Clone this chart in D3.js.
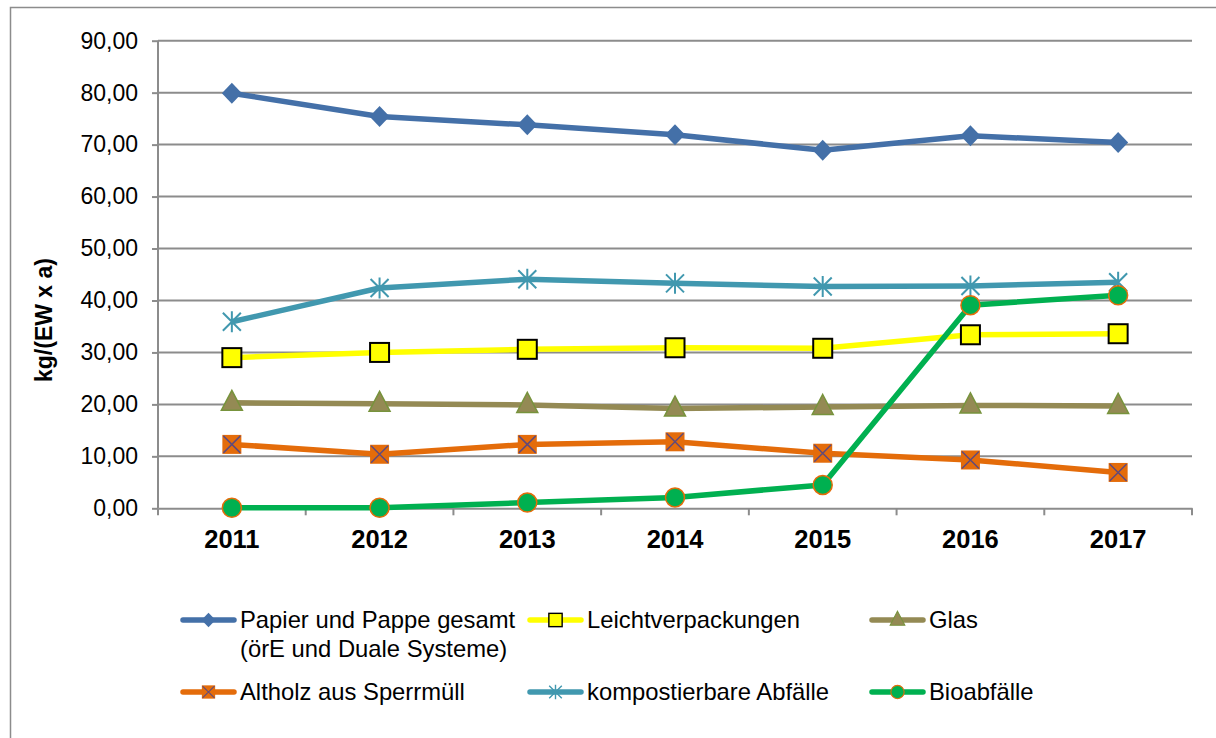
<!DOCTYPE html>
<html>
<head>
<meta charset="utf-8">
<script src="https://cdn.jsdelivr.net/npm/d3@7"></script>
<style>
  body { margin: 0; background: #fff; }
  svg { display: block; font-family: "Liberation Sans", Arial, sans-serif; }
</style>
</head>
<body>
<script>
// data (kg per inhabitant and year)
const years = ['2011', '2012', '2013', '2014', '2015', '2016', '2017']
const papier = [79.9, 75.4, 73.8, 71.9, 68.9, 71.7, 70.4]
const leicht = [29.0, 30.0, 30.6, 30.9, 30.8, 33.4, 33.6]
const glas = [20.3, 20.1, 19.9, 19.2, 19.5, 19.8, 19.7]
const altholz = [12.3, 10.4, 12.3, 12.8, 10.6, 9.3, 6.9]
const kompost = [35.9, 42.4, 44.1, 43.3, 42.7, 42.8, 43.5]
const bio = [0.1, 0.1, 1.1, 2.1, 4.5, 39.1, 41.0]
const yTicks = [0, 10, 20, 30, 40, 50, 60, 70, 80, 90]

const series = [
  {name: ['Papier und Pappe gesamt', '(örE und Duale Systeme)'], values: papier, color: '#4470a8', marker: 'diamond'},
  {name: ['Leichtverpackungen'], values: leicht, color: '#ffff00', marker: 'square'},
  {name: ['Glas'], values: glas, color: '#948a54', marker: 'triangle'},
  {name: ['Altholz aus Sperrmüll'], values: altholz, color: '#e46c0a', marker: 'xsquare'},
  {name: ['kompostierbare Abfälle'], values: kompost, color: '#4198af', marker: 'star'},
  {name: ['Bioabfälle'], values: bio, color: '#00b050', marker: 'circle'}
]

const width = 1216
const height = 738
const margin = {top: 40.7, left: 158, right: 24, bottom: 229.7}
const plotW = width - margin.left - margin.right
const plotH = height - margin.top - margin.bottom
const gridColor = '#8c8c8c'

const svg = d3.select('body').append('svg')
  .attr('width', width)
  .attr('height', height)

// outer chart frame (runs past the right and bottom edge)
svg.append('rect')
  .attr('x', 10.5).attr('y', 7.5)
  .attr('width', 1230).attr('height', 760)
  .attr('fill', 'none').attr('stroke', gridColor).attr('stroke-width', 1.5)

const x = d3.scaleBand().domain(years).range([0, plotW])
const y = d3.scaleLinear().domain([0, 90]).range([plotH, 0])

const g = svg.append('g').attr('transform', `translate(${margin.left}, ${margin.top})`)

// horizontal gridlines
g.append('g').selectAll('line').data(yTicks.slice(1)).join('line')
  .attr('x1', 0).attr('x2', plotW)
  .attr('y1', d => y(d)).attr('y2', d => y(d))
  .attr('stroke', gridColor).attr('stroke-width', 2)

// y axis
const yAxis = d3.axisLeft(y).tickValues(yTicks).tickSize(6).tickPadding(14)
  .tickFormat(d => d3.format('.2f')(d).replace('.', ','))
g.append('g')
  .call(yAxis)
  .call(a => a.selectAll('line, path').attr('stroke', gridColor).attr('stroke-width', 2))
  .call(a => a.select('.domain').attr('d', `M0,${plotH}V0`))
  .call(a => a.selectAll('text').attr('font-size', 23).attr('fill', '#000')
    .attr('font-family', '"Liberation Sans", Arial, sans-serif'))

// x axis, ticks between categories
const xAxis = d3.axisBottom(x).tickSize(0).tickPadding(22)
g.append('g')
  .attr('transform', `translate(0, ${plotH})`)
  .call(xAxis)
  .call(a => a.select('.domain').attr('stroke', gridColor).attr('stroke-width', 2))
  .call(a => a.selectAll('text').attr('font-size', 25.5).attr('font-weight', 'bold').attr('fill', '#000')
    .attr('font-family', '"Liberation Sans", Arial, sans-serif'))
g.append('g').selectAll('line').data(d3.range(years.length + 1)).join('line')
  .attr('x1', i => i * x.step()).attr('x2', i => i * x.step())
  .attr('y1', plotH).attr('y2', plotH + 7)
  .attr('stroke', gridColor).attr('stroke-width', 2)

// y axis title
svg.append('text')
  .attr('transform', 'translate(52, 320) rotate(-90)')
  .attr('text-anchor', 'middle')
  .attr('font-size', 23).attr('font-weight', 'bold')
  .text('kg/(EW x a)')

function drawMarker(sel, type, color) {
  if (type === 'diamond') {
    sel.append('path').attr('d', 'M0,-10.5L10,0L0,10.5L-10,0Z').attr('fill', color)
  } else if (type === 'square') {
    sel.append('rect').attr('x', -9.5).attr('y', -9.5).attr('width', 19).attr('height', 19)
      .attr('fill', color).attr('stroke', '#000').attr('stroke-width', 2)
  } else if (type === 'triangle') {
    sel.append('path').attr('d', 'M0,-12.5L10.5,7.5L-10.5,7.5Z')
      .attr('fill', color).attr('stroke', '#77933c').attr('stroke-width', 1.5)
  } else if (type === 'xsquare') {
    sel.append('rect').attr('x', -9.5).attr('y', -9.5).attr('width', 19).attr('height', 19).attr('fill', color)
    sel.append('path').attr('d', 'M-8.5,-8.5L8.5,8.5M8.5,-8.5L-8.5,8.5').attr('stroke', '#604a7b').attr('stroke-width', 1.5)
  } else if (type === 'star') {
    sel.append('path').attr('d', 'M-9,-9L9,9M9,-9L-9,9M0,-10.5V10.5')
      .attr('stroke', color).attr('stroke-width', 2).attr('fill', 'none')
  } else if (type === 'circle') {
    sel.append('circle').attr('r', 9.5).attr('fill', color)
      .attr('stroke', '#e46c0a').attr('stroke-width', 1.5)
  }
}

const line = d3.line()
  .x((d, i) => x(years[i]) + x.bandwidth() / 2)
  .y(d => y(d))

series.forEach(s => {
  g.append('path')
    .datum(s.values)
    .attr('d', line)
    .attr('fill', 'none')
    .attr('stroke', s.color)
    .attr('stroke-width', 5.5)
    .attr('stroke-linejoin', 'round')
  s.values.forEach((v, i) => {
    const m = g.append('g')
      .attr('transform', `translate(${x(years[i]) + x.bandwidth() / 2}, ${y(v)})`)
    drawMarker(m, s.marker, s.color)
  })
})

// legend, two rows of three
const legendX = [181, 528, 870]
const legendY = [620, 692]
series.forEach((s, i) => {
  const lx = legendX[i % 3]
  const ly = legendY[Math.floor(i / 3)]
  const lg = svg.append('g').attr('transform', `translate(${lx}, ${ly})`)
  lg.append('line')
    .attr('x1', 2).attr('x2', 53).attr('y1', 0).attr('y2', 0)
    .attr('stroke', s.color).attr('stroke-width', 5.5).attr('stroke-linecap', 'round')
  const m = lg.append('g').attr('transform', 'translate(27.5, 0) scale(0.7)')
  drawMarker(m, s.marker, s.color)
  s.name.forEach((t, j) => {
    lg.append('text')
      .attr('x', 59).attr('y', j * 29)
      .attr('dy', '0.35em')
      .attr('font-size', 23.8)
      .text(t)
  })
})
</script>
</body>
</html>
